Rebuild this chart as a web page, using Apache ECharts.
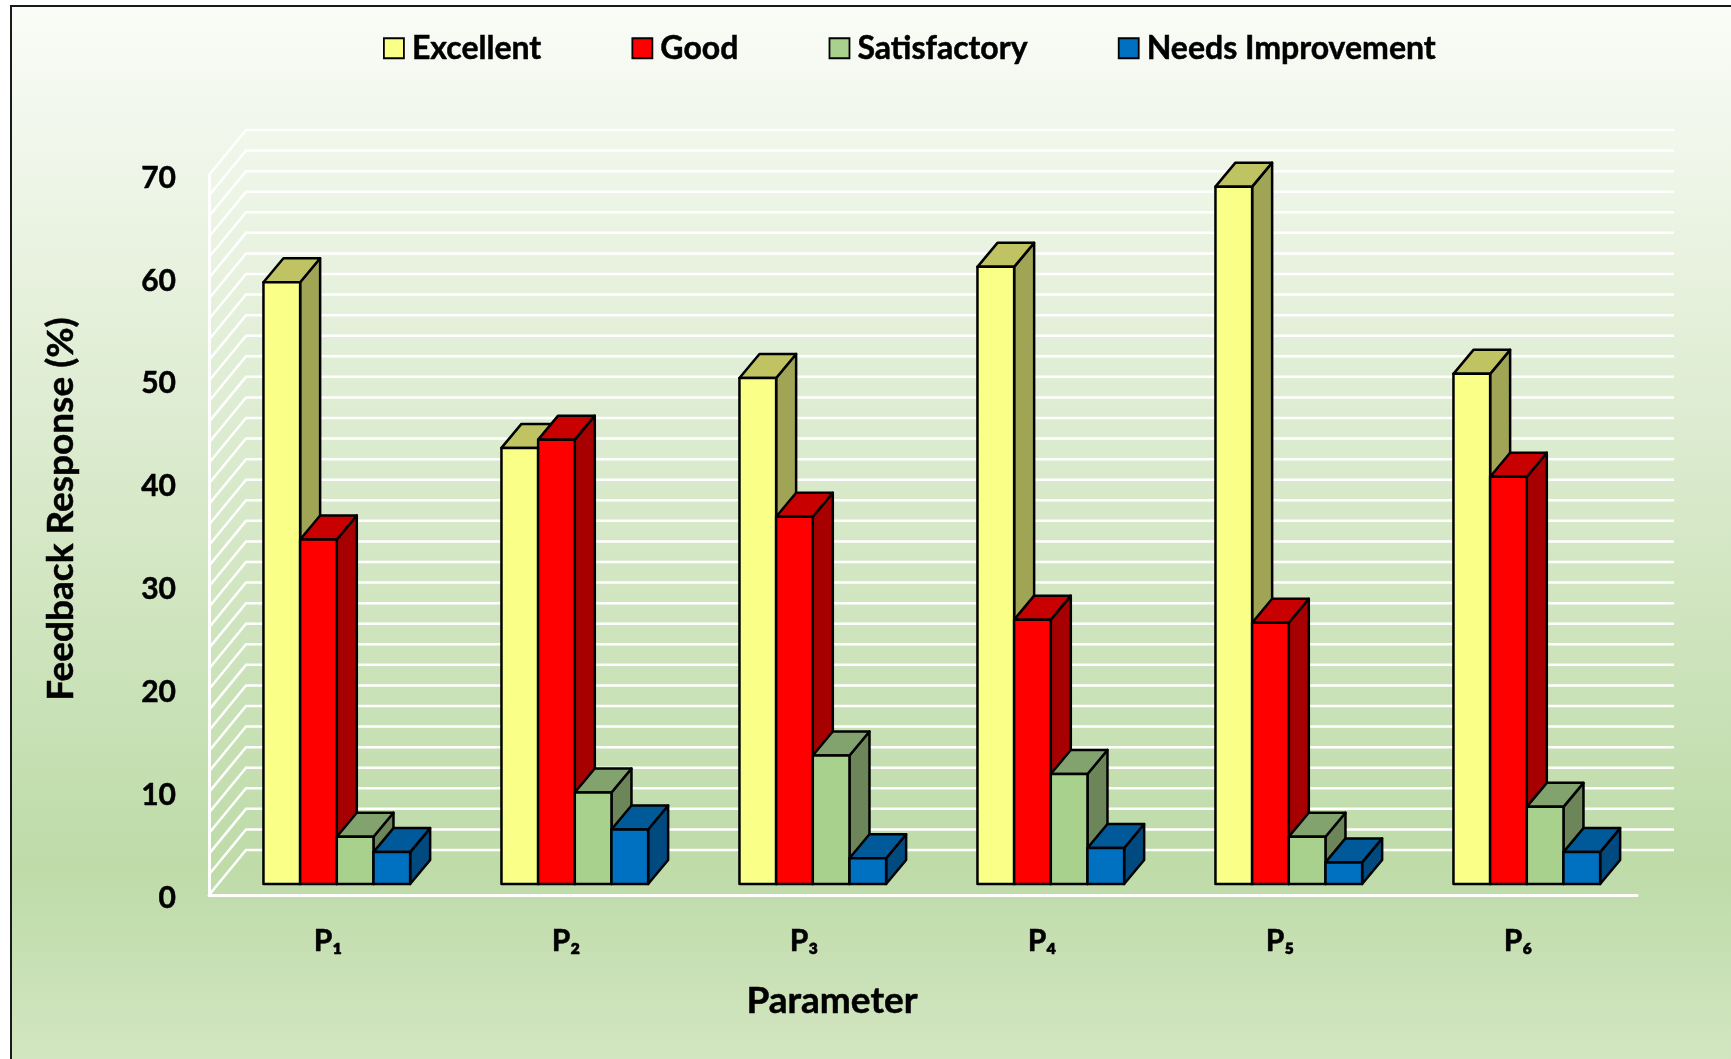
<!DOCTYPE html>
<html>
<head>
<meta charset="utf-8">
<style>html,body{margin:0;padding:0;background:#fff}#c{width:1731px;height:1059px}</style>
<script src="https://cdn.jsdelivr.net/npm/echarts@6/dist/echarts.min.js"></script>
</head>
<body>
<div id="c"></div>
<script>
const categories = ['P₁','P₂','P₃','P₄','P₅','P₆'];
const excellent = [58.5, 42.4, 49.2, 60.0, 67.8, 49.6];
const good = [33.5, 43.2, 35.7, 25.7, 25.4, 39.6];
const satisfactory = [4.6, 8.9, 12.5, 10.7, 4.6, 7.5];
const needsImprovement = [3.1, 5.3, 2.5, 3.5, 2.1, 3.1];
const gridValues = [0,2,4,6,8,10,12,14,16,18,20,22,24,26,28,30,32,34,36,38,40,42,44,46,48,50,52,54,56,58,60,62,64,66,68,70];
const FONT = 'Lato, "Open Sans", sans-serif';
const WEIGHT = 700;

const palette = [
  {name:'Excellent', values:excellent, front:'#FAFF87', top:'#BFC362', side:'#A0A455'},
  {name:'Good', values:good, front:'#FF0000', top:'#C80000', side:'#A60000'},
  {name:'Satisfactory', values:satisfactory, front:'#A9D18E', top:'#83A36E', side:'#6C8659'},
  {name:'Needs Improvement', values:needsImprovement, front:'#0070C0', top:'#005A9A', side:'#004A80'}
];

const BAR_W = 36.67, BAR_DX = 20, BAR_DY = 24, SHIFT_X = 8.8, SHIFT_Y = 11, WALL_DX = 37, WALL_DY = 45;

function renderBar(sIdx, c) {
  return function (params, api) {
    const cat = api.value(0), val = api.value(1);
    const ptTop = api.coord([cat, val]);
    const ptBase = api.coord([cat, 0]);
    const x0 = ptTop[0] - 2 * BAR_W + sIdx * BAR_W + SHIFT_X;
    const x1 = x0 + BAR_W;
    const yT = ptTop[1] - SHIFT_Y;
    const yB = ptBase[1] - SHIFT_Y;
    const st = fill => ({fill, stroke:'#000', lineWidth:2.5, lineJoin:'round'});
    return {type:'group', children:[
      {type:'polygon', shape:{points:[[x1,yT],[x1+BAR_DX,yT-BAR_DY],[x1+BAR_DX,yB-BAR_DY],[x1,yB]]}, style:st(c.side)},
      {type:'polygon', shape:{points:[[x0,yT],[x0+BAR_DX,yT-BAR_DY],[x1+BAR_DX,yT-BAR_DY],[x1,yT]]}, style:st(c.top)},
      {type:'rect', shape:{x:x0,y:yT,width:BAR_W,height:yB-yT}, style:st(c.front)}
    ]};
  };
}

function renderWall(params, api) {
  const v = api.value(1);
  const p = api.coord([0, v]);
  const cs = params.coordSys;
  const xL = cs.x, y = p[1];
  return {type:'polyline',
    shape:{points:[[xL,y],[xL+WALL_DX,y-WALL_DY],[cs.x+cs.width+WALL_DX,y-WALL_DY]]},
    style:{fill:'none', stroke:'#ffffff', lineWidth:2.5}};
}

const chart = echarts.init(document.getElementById('c'), null, {renderer:'canvas', width:1731, height:1059});
chart.setOption({
  animation:false,
  backgroundColor:'#ffffff',
  graphic:[{
    type:'rect', z:-10, silent:true,
    shape:{x:11,y:6,width:1760,height:1090},
    style:{
      stroke:'#1a1a1a', lineWidth:2,
      fill:{type:'linear',x:0,y:0,x2:0,y2:1,colorStops:[
        {offset:0,color:'#FAFCF7'},
        {offset:0.79,color:'#BEDBA8'},
        {offset:0.97,color:'#D3E6C2'},
        {offset:1,color:'#D3E6C2'}
      ]}
    }
  }],
  legend:{
    left:378, top:27, itemWidth:20, itemHeight:20, itemGap:90, icon:'rect',
    data:palette.map(c=>({name:c.name, itemStyle:{color:c.front,borderColor:'#000',borderWidth:1.8}})),
    textStyle:{fontFamily:FONT,fontWeight:WEIGHT,fontSize:32,color:'#000',padding:[0,0,0,3],textBorderColor:'#000',textBorderWidth:0.5}
  },
  grid:{left:209, right:94, top:175, bottom:164, containLabel:false},
  xAxis:{
    type:'category', data:categories,
    axisTick:{show:false},
    axisLine:{show:true,lineStyle:{color:'#fff',width:3}},
    axisLabel:{fontFamily:FONT,fontWeight:WEIGHT,fontSize:30,color:'#000',margin:31,textBorderColor:'#000',textBorderWidth:0.5},
    splitLine:{show:false},
    name:'Parameter', nameLocation:'middle', nameGap:88,
    nameTextStyle:{fontFamily:FONT,fontWeight:WEIGHT,fontSize:37,color:'#000',padding:[0,182,0,0],textBorderColor:'#000',textBorderWidth:0.5}
  },
  yAxis:{
    type:'value', min:0, max:70, interval:10,
    axisTick:{show:false},
    axisLine:{show:true,lineStyle:{color:'#fff',width:3}},
    splitLine:{show:false},
    axisLabel:{margin:33,formatter:'{t|{value}}',
      rich:{t:{fontFamily:FONT,fontWeight:WEIGHT,fontSize:30,color:'#000',padding:[6,0,0,0],textBorderColor:'#000',textBorderWidth:0.5}}},
    name:'Feedback Response (%)', nameLocation:'middle', nameGap:129,
    nameTextStyle:{fontFamily:FONT,fontWeight:WEIGHT,fontSize:37,color:'#000',padding:[0,0,0,52],textBorderColor:'#000',textBorderWidth:0.5}
  },
  series:[
    {type:'custom', name:'wall', silent:true, clip:false, z:1,
      renderItem:renderWall, encode:{x:0,y:1},
      data:gridValues.map(v=>[0,v])},
    ...palette.map((c,s)=>({
      type:'custom', name:c.name, clip:false, z:3,
      itemStyle:{color:c.front},
      renderItem:renderBar(s,c), encode:{x:0,y:1},
      data:c.values.map((v,i)=>[i,v])
    }))
  ]
});
</script>
</body>
</html>
